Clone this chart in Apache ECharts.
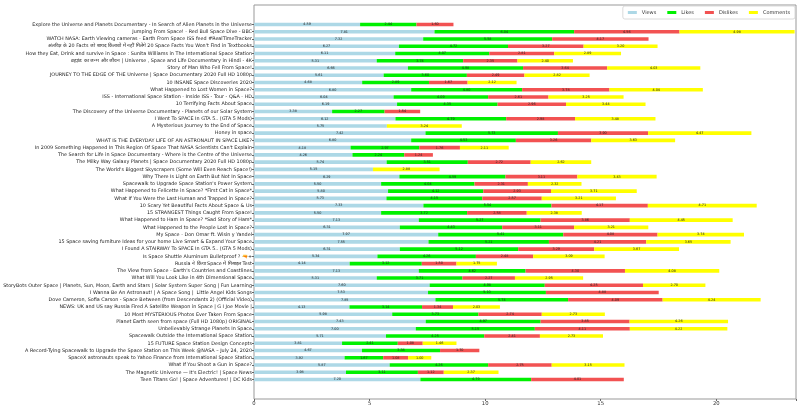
<!DOCTYPE html>
<html>
<head>
<meta charset="utf-8">
<script src="https://cdn.jsdelivr.net/npm/echarts@6/dist/echarts.min.js"></script>
<style>html,body{margin:0;padding:0;background:#fff;}#c{width:800px;height:411px;}</style>
</head>
<body>
<div id="c"></div>
<script>
const categories = [
  "Explore the Universe and Planets Documentary - In Search of Alien Planets in the Universe",
  "Jumping From Space! - Red Bull Space Dive - BBC",
  "WATCH NASA: Earth Viewing cameras - Earth From Space ISS feed #RealTimeTracker",
  "अंतरिक्ष के 20 Facts जो शायद किताबों में नहीं मिलेंगे 20 Space Facts You Won't Find in Textbooks",
  "How they Eat, Drink and survive in Space : Sunita Williams in The International Space Station",
  "ब्रह्मांड का जन्म और जीवन | Universe , Space and Life Documentary in Hindi - 4K",
  "Story of Man Who Fell From Space!",
  "JOURNEY TO THE EDGE OF THE Universe | Space Documentary 2020 Full HD 1080p",
  "10 INSANE Space Discoveries 2020",
  "What Happened to Lost Women in Space?",
  "ISS - International Space Station - Inside ISS - Tour - Q&A - HD",
  "10 Terrifying Facts About Space",
  "The Discovery of the Universe Documentary - Planets of our Solar System",
  "I Went To SPACE In GTA 5.. (GTA 5 Mods)",
  "A Mysterious Journey to the End of Space",
  "Honey in space",
  "WHAT IS THE EVERYDAY LIFE OF AN ASTRONAUT IN SPACE LIKE?",
  "In 2009 Something Happened In This Region Of Space That NASA Scientists Can't Explain",
  "The Search for Life in Space Documentary - Where is the Centre of the Universe",
  "The Milky Way Galaxy Planets | Space Documentary 2020 Full HD 1080p",
  "The World's Biggest Skyscrapers (Some Will Even Reach Space!)",
  "Why There Is Light on Earth But Not In Space",
  "Spacewalk to Upgrade Space Station's Power System",
  "What Happened to Felicette in Space? *First Cat in Space*",
  "What If You Were the Last Human and Trapped in Space?",
  "10 Scary Yet Beautiful Facts About Space & Us",
  "15 STRANGEST Things Caught From Space!",
  "What Happened to Ham in Space? *Sad Story of Ham*",
  "What Happened to the People Lost in Space?",
  "My Space - Don Omar ft. Wisin y Yandel",
  "15 Space saving furniture Ideas for your home Live Smart & Expand Your Space",
  "I Found A STAIRWAY To SPACE In GTA 5.. (GTA 5 Mods)",
  "Is Space Shuttle Aluminum Bulletproof ? 🔫+",
  "Russia ने किया Space में मिसाइल Test",
  "The View from Space - Earth's Countries and Coastlines",
  "What Will You Look Like in 4th Dimensional Space",
  "StoryBots Outer Space | Planets, Sun, Moon, Earth and Stars | Solar System Super Song | Fun Learning",
  "I Wanna Be An Astronaut! | A Space Song |  Little Angel Kids Songs",
  "Dove Cameron, Sofia Carson - Space Between (from Descendants 2) (Official Video)",
  "NEWS: UK and US say Russia Fired A Satellite Weapon in Space | G I Joe Movie |",
  "10 Most MYSTERIOUS Photos Ever Taken From Space",
  "Planet Earth seen from space (Full HD 1080p) ORIGINAL",
  "Unbelievably Strange Planets In Space",
  "Spacewalk Outside the International Space Station",
  "15 FUTURE Space Station Design Concepts",
  "A Record-Tying Spacewalk to Upgrade the Space Station on This Week @NASA – July 24, 2020",
  "SpaceX astronauts speak to Yahoo Finance from International Space Station",
  "What If You Shoot a Gun in Space?",
  "The Magnetic Universe — It's Electric! | Space News",
  "Teen Titans Go! | Space Adventures! | DC Kids"
];
const views = [4.59,7.81,7.32,6.27,6.11,5.31,6.66,5.61,4.68,6.80,6.04,6.19,3.38,6.12,5.75,7.42,6.80,4.18,4.26,5.74,5.15,6.29,5.50,5.80,5.73,7.33,5.50,7.13,6.31,7.97,7.55,6.31,5.34,4.14,7.13,5.31,7.60,7.53,7.85,4.13,5.98,7.43,7.00,5.71,3.81,4.67,3.92,5.87,3.98,7.20];
const likes = [2.44,6.04,5.58,4.72,4.07,3.74,4.98,3.60,2.89,4.80,4.09,4.35,2.27,4.79,0,5.73,4.53,2.97,2.24,3.51,0,4.59,4.04,4.12,4.15,5.54,3.72,5.27,4.43,5.41,5.21,5.12,4.26,3.12,4.62,3.71,4.98,5.10,5.74,3.14,3.73,4.97,5.15,4.25,2.41,3.38,1.67,4.26,3.11,4.79];
const dislikes = [1.60,4.56,4.17,3.27,2.81,2.35,3.64,2.49,1.67,3.78,2.61,2.96,1.54,2.98,0,3.90,3.26,1.76,1.24,2.72,0,3.11,2.31,2.93,2.57,4.17,2.58,3.86,3.11,4.08,4.21,3.29,2.48,1.50,4.30,2.27,4.25,4.88,4.09,1.34,2.74,3.85,4.11,2.41,1.08,1.70,1.08,2.75,1.12,4.01];
const comments = [0,4.98,0,3.20,2.89,2.40,4.03,2.82,2.12,4.04,3.25,3.44,0,3.48,3.24,4.47,3.63,2.11,0,2.62,2.88,3.43,2.32,3.71,3.21,4.71,2.38,4.45,3.21,3.74,3.65,3.67,3.09,1.75,4.08,2.95,2.70,0,4.24,2.03,2.73,4.26,4.22,2.73,1.46,0,1.00,3.15,2.37,0];
const seriesNames = ["Views", "Likes", "Dislikes", "Comments"];
const xTicks = [0, 5, 10, 15, 20];

const FONT = "DejaVu Sans";
const colors = ["#add8e6", "#00f000", "#f25252", "#ffff00"];
const XMAX = 23.45;
const FRAME_L = 254, FRAME_T = 5, FRAME_W = 542, FRAME_H = 394;
const ROW = 7.245;
const n = categories.length;
const innerH = n * ROW;
const innerTop = FRAME_T + (FRAME_H - innerH) / 2;

const chart = echarts.init(document.getElementById('c'), null, {renderer: 'canvas'});
const dataSets = [views, likes, dislikes, comments];
const series = seriesNames.map((name, i) => ({
  name: name,
  type: 'bar',
  stack: 'total',
  xAxisIndex: 1,
  yAxisIndex: 1,
  barWidth: 3.6,
  itemStyle: {color: colors[i]},
  label: {
    show: true,
    position: 'inside',
    fontSize: 3.4,
    fontFamily: FONT,
    color: '#222',
    formatter: p => (p.value ? p.value.toFixed(2) : '')
  },
  emphasis: {disabled: true},
  data: dataSets[i]
}));

chart.setOption({
  animation: false,
  backgroundColor: '#fff',
  textStyle: {fontFamily: FONT},
  legend: {
    data: seriesNames.map((s, i) => ({name: s, itemStyle: {color: colors[i]}})),
    right: 5,
    top: 6,
    itemWidth: 9,
    itemHeight: 3,
    itemGap: 11,
    icon: 'rect',
    padding: [4, 5, 4, 5],
    borderColor: '#d0d0d0',
    borderWidth: 0.8,
    borderRadius: 2,
    backgroundColor: '#fff',
    textStyle: {fontSize: 5, color: '#333', fontFamily: FONT}
  },
  grid: [
    {left: FRAME_L, top: FRAME_T, width: FRAME_W, height: FRAME_H, show: true, borderColor: '#999', borderWidth: 1, backgroundColor: 'transparent'},
    {left: FRAME_L, top: innerTop, width: FRAME_W, height: innerH}
  ],
  xAxis: [
    {
      gridIndex: 0, type: 'value', min: 0, max: XMAX, interval: 5,
      axisLine: {show: false},
      axisTick: {show: true, length: 2, lineStyle: {color: '#666'}},
      splitLine: {show: false},
      axisLabel: {fontSize: 5.3, color: '#333', margin: 2.5, fontFamily: FONT,
        formatter: v => (xTicks.indexOf(v) >= 0 ? String(v) : '')}
    },
    {gridIndex: 1, type: 'value', min: 0, max: XMAX, show: false}
  ],
  yAxis: [
    {gridIndex: 0, type: 'value', show: false},
    {
      gridIndex: 1, type: 'category', inverse: true, data: categories,
      axisLine: {show: false},
      axisTick: {show: true, alignWithLabel: true, length: 2, lineStyle: {color: '#666'}},
      axisLabel: {interval: 0, fontSize: 4.85, color: '#222', margin: 2, fontFamily: FONT}
    }
  ],
  series: series
});
</script>
</body>
</html>
